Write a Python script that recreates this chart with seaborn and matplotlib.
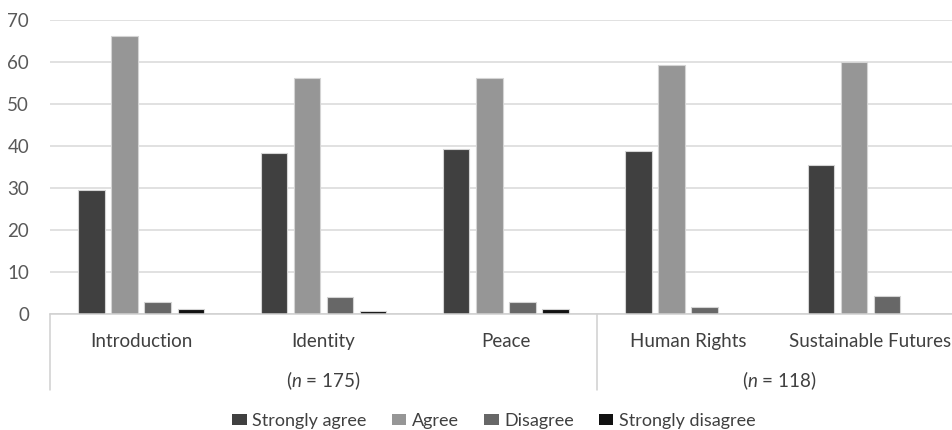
import matplotlib
matplotlib.use("Agg")
import matplotlib.pyplot as plt
import matplotlib.transforms as mtransforms
import pandas as pd
import seaborn as sns

modules = ["Introduction", "Identity", "Peace", "Human Rights", "Sustainable Futures"]
responses = ["Strongly agree", "Agree", "Disagree", "Strongly disagree"]
strongly_agree = [29.5, 38.3, 39.3, 38.9, 35.5]
agree = [66.2, 56.2, 56.2, 59.3, 60.1]
disagree = [2.8, 4.0, 2.8, 1.7, 4.3]
strongly_disagree = [1.1, 0.6, 1.1, 0.0, 0.0]
groups = ["175", "118"]
group_span = [(0, 2), (3, 4)]
yticks = [0, 10, 20, 30, 40, 50, 60, 70]

colors = ["#404040", "#969696", "#676767", "#111111"]

sns.set_theme(style="white")
plt.rcParams["font.family"] = ["Lato", "DejaVu Sans"]
plt.rcParams["mathtext.fontset"] = "custom"
plt.rcParams["mathtext.it"] = "Lato:italic"
plt.rcParams["mathtext.rm"] = "Lato"

rows = []
for resp, vals in zip(responses, [strongly_agree, agree, disagree, strongly_disagree]):
    for m, v in zip(modules, vals):
        rows.append({"module": m, "response": resp, "pct": v})
df = pd.DataFrame(rows)

fig = plt.figure(figsize=(9.52, 4.30), dpi=100)
ax = fig.add_axes([50 / 952, 1 - 314 / 430, 911.7 / 952, 294 / 430])

sns.barplot(data=df, x="module", y="pct", hue="response", order=modules,
            hue_order=responses, palette=colors, width=0.725, gap=0.2,
            edgecolor="#d4d4d4", linewidth=0.8, ax=ax, legend=False)

ax.set_xlim(-0.5, len(modules) - 0.5)
ax.set_ylim(0, 70)
ax.set_yticks(yticks)
ax.yaxis.grid(True, color="#d9d9d9", linewidth=1.1)
ax.set_axisbelow(True)
for s in ["top", "right", "left"]:
    ax.spines[s].set_visible(False)
ax.spines["bottom"].set_color("#d0d0d0")
ax.spines["bottom"].set_linewidth(1.1)
ax.set_xlabel("")
ax.set_ylabel("")
ax.tick_params(axis="y", length=0, pad=15, labelsize=13.5, labelcolor="#595959")
ax.tick_params(axis="x", length=0, pad=13.5, labelsize=13.5, labelcolor="#404040")

# group separators and group labels beneath the category labels
trans = mtransforms.blended_transform_factory(ax.transData, ax.transAxes)
for x in [-0.5, 2.5]:
    ax.plot([x, x], [0, -76 / 294], transform=trans, color="#d0d0d0",
            linewidth=1.1, clip_on=False)
for n, (a, b) in zip(groups, group_span):
    ax.text((a + b) / 2, -67 / 294, r"($\it{n}$ = " + n + ")", transform=trans,
            ha="center", va="center", fontsize=13.5, color="#404040")

handles = [plt.Rectangle((0, 0), 1, 1, facecolor=c, edgecolor="none") for c in colors]
fig.legend(handles, responses, loc="center", bbox_to_anchor=(494 / 952, 1 - 421 / 430),
           ncol=4, frameon=False, fontsize=13, handlelength=0.8, handleheight=0.55,
           handletextpad=0.3, columnspacing=1.4, labelcolor="#404040")

fig.savefig("out.png", dpi=100)
